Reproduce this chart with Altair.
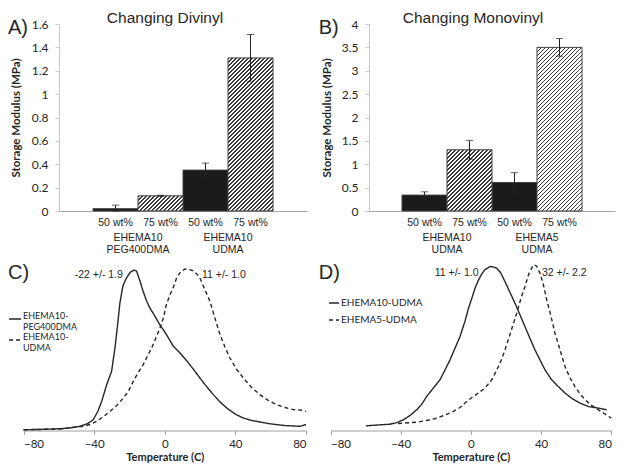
import altair as alt
import pandas as pd

SANS = "Liberation Sans"
CAL = "Lato"
INK = "#262626"

# ---------------- data ----------------
wt_labels = ["50 wt%", "75 wt%"]

A_title = "Changing Divinyl"
A_tag = "A)"
A_groups = [["EHEMA10", "PEG400DMA"], ["EHEMA10", "UDMA"]]
A_values = [0.02, 0.13, 0.35, 1.31]
A_errors = [0.03, 0.005, 0.06, 0.20]
A_yticks = [0, 0.2, 0.4, 0.6, 0.8, 1.0, 1.2, 1.4, 1.6]

B_title = "Changing Monovinyl"
B_tag = "B)"
B_groups = [["EHEMA10", "UDMA"], ["EHEMA5", "UDMA"]]
B_values = [0.34, 1.31, 0.61, 3.50]
B_errors = [0.07, 0.20, 0.21, 0.19]
B_yticks = [0, 0.5, 1, 1.5, 2, 2.5, 3, 3.5, 4]

temp_ticks = [-80, -40, 0, 40, 80]
temp_title = "Temperature (C)"

C_tag = "C)"
C_names = ["EHEMA10-PEG400DMA", "EHEMA10-UDMA"]
C1_T = [-80, -70.7, -59.3, -53.7, -48.0, -43.5, -40.5, -37.8, -35.7, -32.9, -30.1, -28.2,
        -26.9, -25.4, -23.7, -22.0, -19.7, -17.4, -16.0, -14.0, -12.3, -10.2, -8.4, -5.5,
        -2.7, -0.8, 1.8, 4.8, 8.6, 12.4, 16.1, 19.9, 23.7, 27.5, 31.3, 35.1, 39.8, 44.5,
        49.2, 53.9, 58.4, 63.4, 68.1, 72.8, 76.6, 80]
C1_V = [0.005, 0.007, 0.012, 0.017, 0.028, 0.047, 0.072, 0.13, 0.195, 0.305, 0.395, 0.55,
        0.683, 0.85, 0.963, 1.01, 1.053, 1.07, 1.063, 0.995, 0.93, 0.861, 0.817, 0.761,
        0.703, 0.672, 0.623, 0.563, 0.517, 0.465, 0.41, 0.35, 0.293, 0.239, 0.19, 0.15,
        0.11, 0.083, 0.067, 0.057, 0.047, 0.039, 0.033, 0.03, 0.028, 0.039]
C2_T = [-80, -59.3, -50.3, -46.1, -42.3, -38.6, -35.0, -31.0, -27.2, -23.5, -20.8, -17.8,
        -15.2, -12.2, -9.8, -7.4, -5.0, -2.7, -0.8, 1.0, 3.0, 4.9, 6.7, 8.9, 11.5, 13.7,
        16.2, 18.2, 19.9, 22.8, 25.6, 28.4, 31.3, 34.1, 36.9, 40.6, 44.5, 49.2, 53.9, 58.4,
        63.4, 68.1, 72.8, 76.6, 80]
C2_V = [0.005, 0.01, 0.023, 0.028, 0.04, 0.061, 0.09, 0.128, 0.167, 0.217, 0.257, 0.328,
        0.383, 0.439, 0.497, 0.55, 0.617, 0.683, 0.75, 0.843, 0.905, 0.957, 1.017, 1.057,
        1.077, 1.073, 1.065, 1.043, 1.017, 0.937, 0.861, 0.75, 0.639, 0.557, 0.483, 0.41,
        0.35, 0.287, 0.239, 0.203, 0.172, 0.153, 0.139, 0.137, 0.128]
C_notes = ["-22 +/- 1.9", "11 +/- 1.0"]
C_notes_T = [-23.7, 21.1]
C_notes_V = [1.02, 1.02]
C_notes_align = ["right", "left"]

D_tag = "D)"
D_names = ["EHEMA10-UDMA", "EHEMA5-UDMA"]
D1_T = [-59.8, -52.9, -46.1, -42.1, -38.5, -34.7, -30.9, -28.1, -25.2, -21.6, -17.6, -14.8,
        -11.9, -9.1, -6.2, -3.4, -1.4, 0.5, 2.3, 4.2, 6.0, 8.0, 10.9, 12.6, 14.7, 16.9, 19.4,
        22.3, 25.1, 28.0, 30.8, 33.7, 36.5, 39.4, 42.2, 45.9, 49.8, 53.6, 57.4, 62.2, 66.9,
        72.6, 75.3, 77.4]
D1_V = [0.031, 0.037, 0.042, 0.053, 0.071, 0.1, 0.138, 0.173, 0.227, 0.28, 0.338, 0.403,
        0.471, 0.547, 0.627, 0.727, 0.813, 0.88, 0.947, 1.0, 1.04, 1.073, 1.093, 1.091,
        1.082, 1.053, 0.993, 0.92, 0.849, 0.77, 0.693, 0.613, 0.538, 0.47, 0.405, 0.34,
        0.293, 0.25, 0.215, 0.183, 0.16, 0.149, 0.143, 0.138]
D2_T = [-41.5, -37.5, -30.9, -25.2, -19.5, -14.8, -10.0, -6.2, -2.4, 0.6, 4.2, 8.0, 11.9,
        14.3, 16.6, 18.9, 21.3, 23.7, 26.1, 28.5, 30.8, 33.1, 35.6, 37.4, 39.4, 41.4, 43.2,
        45.4, 47.9, 50.8, 53.6, 56.5, 59.3, 62.2, 65.1, 68.7, 72.6, 76.4, 80]
D2_V = [0.047, 0.05, 0.055, 0.067, 0.082, 0.103, 0.127, 0.153, 0.193, 0.22, 0.249, 0.283,
        0.338, 0.393, 0.449, 0.52, 0.605, 0.693, 0.782, 0.88, 0.96, 1.047, 1.105, 1.097,
        1.049, 0.967, 0.871, 0.773, 0.649, 0.537, 0.427, 0.35, 0.293, 0.243, 0.205, 0.167,
        0.138, 0.11, 0.082]
D_notes = ["11 +/- 1.0", "32 +/- 2.2"]
D_notes_T = [4.4, 40.5]
D_notes_V = [1.033, 1.033]
D_notes_align = ["right", "left"]


# ---------------- helpers ----------------
def hatch(w, h, period=4.0, frac=0.36, dark="#3a3a3a", light="#ffffff"):
    L = w + h
    s = L / (w * w + h * h)
    stops = []
    k = 0
    while k * period < L:
        o0 = k * period / L
        o1 = min((k * period + frac * period) / L, 1)
        o2 = min((k + 1) * period / L, 1)
        stops += [{"offset": round(o0, 5), "color": dark},
                  {"offset": round(o1, 5), "color": dark},
                  {"offset": round(o1, 5), "color": light},
                  {"offset": round(o2, 5), "color": light}]
        k += 1
    return {"gradient": "linear", "x1": 0, "y1": 0, "x2": w * s, "y2": h * s, "stops": stops}


def bar_panel(title, tag, groups, values, errors, yticks, width, title_x, tag_x, ytitle_x):
    H = 187
    STEP = 45
    n = len(values)
    keys = [f"{i}|{wt_labels[i % 2]}" for i in range(n)]
    ymax = yticks[-1]
    df = pd.DataFrame({"key": keys, "value": values, "err": errors})
    df["lo"] = (df["value"] - df["err"]).clip(lower=0)
    df["hi"] = df["value"] + df["err"]

    xs = alt.Scale(domain=keys, paddingInner=0, paddingOuter=(width - STEP * n) / 2 / STEP)
    ys = alt.Scale(domain=[0, ymax], nice=False)
    xa = alt.Axis(title=None, labelExpr="split(datum.label, '|')[1]", ticks=False, tickSize=0,
                  labelPadding=6, labelAngle=0, domainColor="#a6a6a6", grid=False,
                  labelFont=SANS, labelFontSize=10.5, labelColor=INK)
    ya = alt.Axis(title="Storage Modulus (MPa)", values=yticks, format=".1~f", grid=False,
                  domainColor="#c8c8c8", tickColor="#c8c8c8", tickSize=4, labelPadding=7,
                  labelFont=CAL, labelFontSize=12, labelColor=INK,
                  titleFont=CAL, titleFontSize=11.5, titleFontWeight="bold", titleColor=INK,
                  titleX=ytitle_x, titleY=H / 2, titleAngle=270, titleBaseline="middle",
                  titleAlign="center")
    X = alt.X("key:N", scale=xs, axis=xa)

    def Y(f):
        return alt.Y(f"{f}:Q", scale=ys, axis=ya)

    layers = []
    black = df.iloc[[i for i in range(n) if i % 2 == 0]]
    layers.append(alt.Chart(black).mark_bar(fill="#1b1b1b", stroke="#404040", strokeWidth=1)
                  .encode(x=X, y=Y("value")))
    for i in range(1, n, 2):
        h = values[i] / ymax * H
        layers.append(alt.Chart(df.iloc[[i]]).mark_bar(fill=hatch(STEP, h), stroke="#404040",
                                                        strokeWidth=1)
                      .encode(x=X, y=Y("value")))
    layers.append(alt.Chart(df).mark_rule(color="#222222", strokeWidth=1)
                  .encode(x=X, y=Y("lo"), y2="hi:Q"))
    layers.append(alt.Chart(df).mark_tick(orient="horizontal", size=7, thickness=1, color="#222222")
                  .encode(x=X, y=Y("hi")))
    layers.append(alt.Chart(df).mark_tick(orient="horizontal", size=7, thickness=1, color="#222222")
                  .encode(x=X, y=Y("lo")))
    gdf = pd.DataFrame({"key": [keys[0], keys[2]], "lines": groups})
    layers.append(alt.Chart(gdf).mark_text(font=SANS, fontSize=10.5, color=INK, lineHeight=12,
                                           baseline="middle", align="center")
                  .encode(x=alt.X("key:N", scale=xs, axis=xa, bandPosition=1),
                          y=alt.value(H + 27), text="lines"))
    tdf = pd.DataFrame({"t": [title]})
    layers.append(alt.Chart(tdf).mark_text(font=SANS, fontSize=15.5, color=INK, align="center",
                                           baseline="alphabetic")
                  .encode(x=alt.value(title_x), y=alt.value(-1.5), text="t:N"))
    gdf2 = pd.DataFrame({"t": [tag]})
    layers.append(alt.Chart(gdf2).mark_text(font=SANS, fontSize=20, color=INK, align="left",
                                            baseline="alphabetic")
                  .encode(x=alt.value(tag_x), y=alt.value(10.3), text="t:N"))
    return alt.layer(*layers).properties(width=width, height=H)


def line_panel(tag, names, series_T, series_V, notes, notes_T, notes_V, notes_align,
               rng, width, legend_x, legend_y, legend_size, label_expr, label_size,
               label_baseline, row_pad, tag_x):
    H = 172.5
    rows = []
    for name, Ts, Vs in zip(names, series_T, series_V):
        for t, v in zip(Ts, Vs):
            rows.append({"series": name, "T": t, "V": v})
    df = pd.DataFrame(rows)
    xs = alt.Scale(domain=[-80, 80], range=rng, nice=False, zero=False)
    ys = alt.Scale(domain=[0, 1.15], nice=False)
    xa = alt.Axis(title=temp_title, values=temp_ticks, grid=False, domainColor="#a0a0a0",
                  tickColor="#a0a0a0", tickSize=4, labelPadding=4, labelFont=CAL,
                  labelFontSize=11.5, labelColor=INK, titleFont=CAL, titleFontSize=11,
                  titleFontWeight="bold", titleColor=INK, titlePadding=1)
    legend = alt.Legend(title=None, orient="none", legendX=legend_x, legendY=legend_y,
                        symbolType="stroke", symbolSize=legend_size, symbolStrokeWidth=1.4,
                        symbolStrokeColor=INK, labelFont=CAL, labelFontSize=label_size,
                        labelColor=INK, labelOffset=1, labelExpr=label_expr, padding=0,
                        rowPadding=row_pad, labelBaseline=label_baseline)
    lines = alt.Chart(df).mark_line(color=INK, strokeWidth=1.4).encode(
        x=alt.X("T:Q", scale=xs, axis=xa),
        y=alt.Y("V:Q", scale=ys, axis=None),
        strokeDash=alt.StrokeDash("series:N", scale=alt.Scale(domain=names, range=[[1, 0], [4, 3]]),
                                  legend=legend),
    )
    layers = [lines]
    ndf = pd.DataFrame({"note": notes, "T": notes_T, "V": notes_V, "align": notes_align})
    for al in ["left", "right"]:
        sub = ndf[ndf["align"] == al]
        layers.append(alt.Chart(sub).mark_text(font=SANS, fontSize=10.5, color=INK, align=al,
                                               baseline="alphabetic")
                      .encode(x=alt.X("T:Q", scale=xs, axis=xa),
                              y=alt.Y("V:Q", scale=ys, axis=None), text="note:N"))
    gdf2 = pd.DataFrame({"t": [tag]})
    layers.append(alt.Chart(gdf2).mark_text(font=SANS, fontSize=20, color=INK, align="left",
                                            baseline="alphabetic")
                  .encode(x=alt.value(tag_x), y=alt.value(21), text="t:N"))
    return alt.layer(*layers).properties(width=width, height=H)


A = bar_panel(A_title, A_tag, A_groups, A_values, A_errors, A_yticks, 248, 106, -51, -43)
B = bar_panel(B_title, B_tag, B_groups, B_values, B_errors, B_yticks, 246, 104, -50.3, -41.5)
C = line_panel(C_tag, C_names, [C1_T, C2_T], [C1_V, C2_V], C_notes, C_notes_T, C_notes_V,
               C_notes_align, [-35.5, 247], 247, -51, 54, 144,
               "[slice(datum.label, 0, 8), slice(datum.label, 8)]", 9, "alphabetic", 1, -51)
D = line_panel(D_tag, D_names, [D1_T, D2_T], [D1_V, D2_V], D_notes, D_notes_T, D_notes_V,
               D_notes_align, [-38.5, 242.3], 243, -41, 39, 100, "datum.label", 10, "middle",
               6, -50.3)

chart = alt.concat(A, B, C, D, columns=2, spacing={"row": 47, "column": 62},
                   bounds="flush").properties(
    autosize=alt.AutoSizeParams(type="none"),
    padding={"left": 51, "top": 16, "right": 557, "bottom": 439},
    background="white",
).configure_view(stroke=None).resolve_scale(x="independent", y="independent",
                                            strokeDash="independent")

chart.save("out.html", embed_options={"renderer": "svg", "actions": False})
